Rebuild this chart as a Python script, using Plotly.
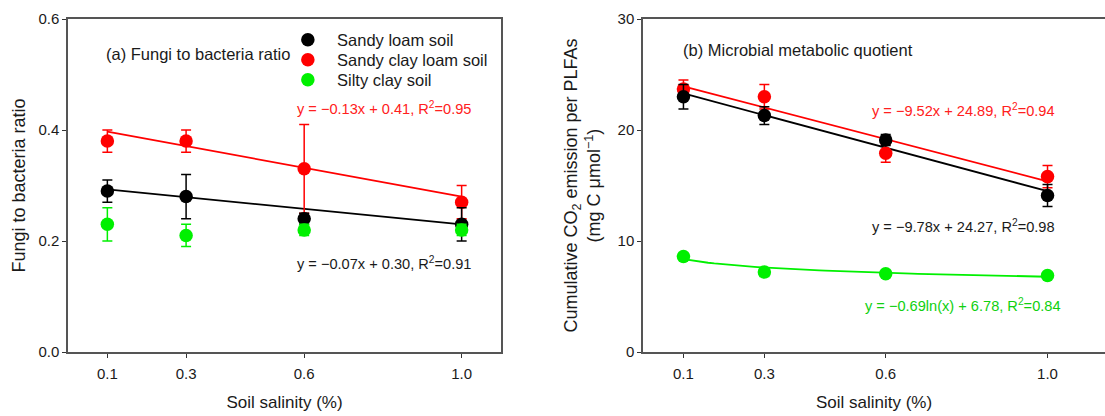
import numpy as np
import plotly.graph_objects as go

# Soil salinity treatments (%)
salinity = [0.1, 0.3, 0.6, 1.0]
salinity_ticks = ["0.1", "0.3", "0.6", "1.0"]

soil_names = ["Sandy loam soil", "Sandy clay loam soil", "Silty clay soil"]
soil_colors = ["#000000", "#FF0000", "#00F000"]
label_colors = ["#1a1a1a", "#FF2020", "#10D010"]

# (a) Fungi to bacteria ratio, mean and SE
fb_sandy_loam = [0.29, 0.28, 0.24, 0.23]
fb_sandy_loam_se = [0.02, 0.04, 0.01, 0.03]
fb_sandy_clay_loam = [0.38, 0.38, 0.33, 0.27]
fb_sandy_clay_loam_se = [0.02, 0.02, 0.08, 0.03]
fb_silty_clay = [0.23, 0.21, 0.22, 0.22]
fb_silty_clay_se = [0.03, 0.02, 0.01, 0.01]

# (b) Cumulative CO2 emission per PLFAs, mean and SE
q_sandy_loam = [23.0, 21.3, 19.1, 14.1]
q_sandy_loam_se = [1.1, 0.8, 0.5, 1.0]
q_sandy_clay_loam = [23.7, 23.0, 17.9, 15.8]
q_sandy_clay_loam_se = [0.8, 1.1, 0.8, 1.0]
q_silty_clay = [8.6, 7.2, 7.05, 6.9]
q_silty_clay_se = [0.3, 0.4, 0.2, 0.2]

# Regression fits: (slope, intercept, R2)
fb_fit_sandy_loam = (-0.07, 0.30, 0.91)
fb_fit_sandy_clay_loam = (-0.13, 0.41, 0.95)
q_fit_sandy_loam = (-9.78, 24.27, 0.98)
q_fit_sandy_clay_loam = (-9.52, 24.89, 0.94)
q_fit_silty_clay_log = (-0.69, 6.78, 0.84)

FONT = "Liberation Sans, Arial, sans-serif"
fig = go.Figure()

xfit = np.linspace(salinity[0], salinity[-1], 60)
legend_ids = ["legend", "legend2", "legend3"]


def add_fit(y, color, xa, ya):
    fig.add_trace(go.Scatter(x=xfit, y=y, mode="lines", line=dict(color=color, width=1.8),
                             showlegend=False, hoverinfo="skip", xaxis=xa, yaxis=ya))


def add_points(y, se, i, xa, ya, legend):
    fig.add_trace(go.Scatter(
        x=salinity, y=y, mode="markers", name="\u00a0\u00a0" + soil_names[i],
        marker=dict(color=soil_colors[i], size=13.5),
        error_y=dict(type="data", array=se, color=soil_colors[i], thickness=1.5, width=5),
        showlegend=legend, legend=legend_ids[i], xaxis=xa, yaxis=ya))


# panel (a)
add_fit(fb_fit_sandy_clay_loam[0] * xfit + fb_fit_sandy_clay_loam[1], "#FF0000", "x", "y")
add_fit(fb_fit_sandy_loam[0] * xfit + fb_fit_sandy_loam[1], "#000000", "x", "y")
add_points(fb_sandy_clay_loam, fb_sandy_clay_loam_se, 1, "x", "y", True)
add_points(fb_sandy_loam, fb_sandy_loam_se, 0, "x", "y", True)
add_points(fb_silty_clay, fb_silty_clay_se, 2, "x", "y", True)

# panel (b)
add_fit(q_fit_sandy_clay_loam[0] * xfit + q_fit_sandy_clay_loam[1], "#FF0000", "x2", "y2")
add_fit(q_fit_sandy_loam[0] * xfit + q_fit_sandy_loam[1], "#000000", "x2", "y2")
add_fit(q_fit_silty_clay_log[0] * np.log(xfit) + q_fit_silty_clay_log[1], "#00F000", "x2", "y2")
add_points(q_sandy_clay_loam, q_sandy_clay_loam_se, 1, "x2", "y2", False)
add_points(q_sandy_loam, q_sandy_loam_se, 0, "x2", "y2", False)
add_points(q_silty_clay, q_silty_clay_se, 2, "x2", "y2", False)


def lin_label(fit):
    s, b, r2 = fit
    return f"y = \u2212{abs(s):.2f}x + {b:.2f}, R<sup>2</sup>={r2:.2f}"


def log_label(fit):
    s, b, r2 = fit
    return f"y = \u2212{abs(s):.2f}ln(x) + {b:.2f}, R<sup>2</sup>={r2:.2f}"


eq_font = 14.6
annotations = [
    dict(text="(a) Fungi to bacteria ratio", x=0.092, y=0.537, xref="x", yref="y",
         xanchor="left", yanchor="middle", showarrow=False, font=dict(size=16.5, color="#1a1a1a")),
    dict(text="(b) Microbial metabolic quotient", x=0.094, y=27.2, xref="x2", yref="y2",
         xanchor="left", yanchor="middle", showarrow=False, font=dict(size=16.5, color="#1a1a1a")),
    dict(text=lin_label(fb_fit_sandy_clay_loam), x=1.028, y=0.44, xref="x", yref="y",
         xanchor="right", yanchor="middle", showarrow=False, font=dict(size=eq_font, color=label_colors[1])),
    dict(text=lin_label(fb_fit_sandy_loam), x=1.028, y=0.16, xref="x", yref="y",
         xanchor="right", yanchor="middle", showarrow=False, font=dict(size=eq_font, color=label_colors[0])),
    dict(text=lin_label(q_fit_sandy_clay_loam), x=1.023, y=21.8, xref="x2", yref="y2",
         xanchor="right", yanchor="middle", showarrow=False, font=dict(size=eq_font, color=label_colors[1])),
    dict(text=lin_label(q_fit_sandy_loam), x=1.023, y=11.35, xref="x2", yref="y2",
         xanchor="right", yanchor="middle", showarrow=False, font=dict(size=eq_font, color=label_colors[0])),
    dict(text=log_label(q_fit_silty_clay_log), x=1.038, y=4.23, xref="x2", yref="y2",
         xanchor="right", yanchor="middle", showarrow=False, font=dict(size=eq_font, color=label_colors[2])),
]

axis_common = dict(showgrid=False, zeroline=False, showline=True, linecolor="#555555", linewidth=1.5,
                   ticks="outside", ticklen=4, tickwidth=1.2, tickcolor="#333333",
                   tickfont=dict(size=15, color="#1a1a1a"), automargin=False)

legend_common = dict(x=0.2605, xanchor="left", yanchor="middle", bgcolor="rgba(0,0,0,0)",
                     font=dict(size=16.5, color="#1a1a1a"), itemwidth=30)
legend_rows = [40, 60, 80]

fig.update_layout(
    width=1105, height=416, margin=dict(l=0, r=0, t=0, b=0),
    paper_bgcolor="white", plot_bgcolor="white",
    font=dict(family=FONT, color="#1a1a1a"),
    showlegend=True,
    legend=dict(y=1 - legend_rows[0] / 416, **legend_common),
    legend2=dict(y=1 - legend_rows[1] / 416, **legend_common),
    legend3=dict(y=1 - legend_rows[2] / 416, **legend_common),
    annotations=annotations,
    xaxis=dict(domain=[68 / 1105, 501 / 1105], range=[0, 1.1], tickvals=salinity, ticktext=salinity_ticks,
               mirror=True, ticklabelstandoff=3,
               title=dict(text="Soil salinity (%)", font=dict(size=17), standoff=15), **axis_common),
    yaxis=dict(domain=[64 / 416, 397 / 416], range=[0, 0.6], tickvals=[0, 0.2, 0.4, 0.6],
               ticktext=["0.0", "0.2", "0.4", "0.6"], mirror=True,
               title=dict(text="Fungi to bacteria ratio", font=dict(size=18), standoff=8), **axis_common),
    xaxis2=dict(domain=[643 / 1105, 1.0], range=[0, 1.1 + 17 / 403.8], tickvals=salinity, ticktext=salinity_ticks,
                anchor="y2", mirror=True, ticklabelstandoff=3,
                title=dict(text="Soil salinity (%)", font=dict(size=17), standoff=15), **axis_common),
    yaxis2=dict(domain=[64 / 416, 397 / 416], range=[0, 30], tickvals=[0, 10, 20, 30], anchor="x2",
                mirror=False,
                title=dict(text="Cumulative CO<sub>2</sub> emission per PLFAs<br>(mg C \u03bcmol<sup>\u22121</sup>)",
                           font=dict(size=18), standoff=12), **axis_common),
)

fig.write_html("out.html")
